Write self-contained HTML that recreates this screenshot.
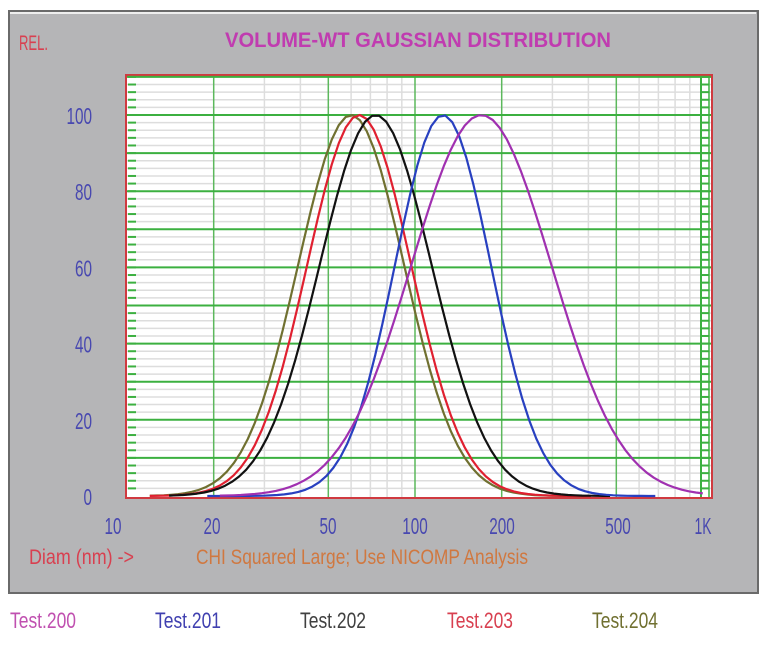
<!DOCTYPE html>
<html><head><meta charset="utf-8"><style>
body{margin:0;width:765px;height:641px;background:#fff;overflow:hidden;font-family:"Liberation Sans",sans-serif}
</style></head><body>
<svg width="765" height="641" xmlns="http://www.w3.org/2000/svg" id="s">
<rect x="9" y="11" width="749" height="582" fill="#b5b5b7" stroke="#6a6a6a" stroke-width="2"/>
<rect x="10" y="12" width="746" height="2" fill="#eee"/>
<rect x="126" y="75" width="586" height="423" fill="#fff" stroke="#d03a40" stroke-width="2"/>
<g id="grid"></g>
<g id="curves" fill="none" stroke-width="2.2" stroke-linejoin="round"></g>
<text x="19" y="50" font-size="21" fill="#d84050" textLength="29" lengthAdjust="spacingAndGlyphs">REL.</text>
<text x="418" y="47" font-size="21" font-weight="bold" fill="#c03cb0" text-anchor="middle" textLength="386" lengthAdjust="spacingAndGlyphs">VOLUME-WT GAUSSIAN DISTRIBUTION</text>
<g font-size="23" fill="#4848b0" id="ylab"></g>
<g font-size="23" fill="#4848b0" id="xlab"></g>
<text x="29" y="564" font-size="21" fill="#d84050" textLength="105" lengthAdjust="spacingAndGlyphs">Diam (nm) -&gt;</text>
<text x="196" y="564" font-size="21" fill="#d07840" textLength="332" lengthAdjust="spacingAndGlyphs">CHI Squared Large; Use NICOMP Analysis</text>
<g font-size="22">
<text x="10" y="628" fill="#c050b0" textLength="66" lengthAdjust="spacingAndGlyphs">Test.200</text>
<text x="155" y="628" fill="#4040b0" textLength="66" lengthAdjust="spacingAndGlyphs">Test.201</text>
<text x="300" y="628" fill="#404040" textLength="66" lengthAdjust="spacingAndGlyphs">Test.202</text>
<text x="447" y="628" fill="#d84050" textLength="66" lengthAdjust="spacingAndGlyphs">Test.203</text>
<text x="592" y="628" fill="#707030" textLength="66" lengthAdjust="spacingAndGlyphs">Test.204</text>
</g>
</svg>
<script>
var NS="http://www.w3.org/2000/svg";
function el(p,t,a){var e=document.createElementNS(NS,t);for(var k in a)e.setAttribute(k,a[k]);p.appendChild(e);return e;}
function X(d){return 127+288*Math.log10(d/10);}
function Y(v){return 496-3.81*v;}
var g=document.getElementById('grid');
for(var v=2;v<=110;v+=2){if(v%10)el(g,'line',{x1:127,x2:711,y1:Y(v),y2:Y(v),stroke:'#ddd','stroke-width':1.5});}
[20,30,40,50,60,70,80,90,100,200,300,400,500,600,700,800,900].forEach(function(d){
 var maj=[20,50,100,200,500].indexOf(d)>=0;
 el(g,'line',{x1:X(d),x2:X(d),y1:76,y2:497,stroke:maj?'#5cb85c':'#ddd','stroke-width':1.5});
});
for(var v=10;v<=110;v+=10)el(g,'line',{x1:127,x2:711,y1:Y(v),y2:Y(v),stroke:'#3cb040','stroke-width':2});
for(var v=2;v<=110;v+=2){el(g,'line',{x1:128,x2:136,y1:Y(v),y2:Y(v),stroke:'#3cb040','stroke-width':2});el(g,'line',{x1:700,x2:709,y1:Y(v),y2:Y(v),stroke:'#3cb040','stroke-width':2});}
el(g,'line',{x1:701,x2:701,y1:76,y2:497,stroke:'#3cb040','stroke-width':2});
el(g,'line',{x1:709,x2:709,y1:76,y2:497,stroke:'#3cb040','stroke-width':1.5});
var yl=document.getElementById('ylab');
[0,20,40,60,80,100].forEach(function(v){var w=String(v).length*8.5;var t=el(yl,'text',{x:92-w,y:Y(v)+9,textLength:w,lengthAdjust:'spacingAndGlyphs'});t.textContent=v;});
var xl=document.getElementById('xlab');
[[10,'10',113],[20,'20',212],[50,'50',328],[100,'100',415],[200,'200',502],[500,'500',618],[1000,'1K',703]].forEach(function(a){var w=a[1].length*8.5;var t=el(xl,'text',{x:a[2]-w/2,y:534,textLength:w,lengthAdjust:'spacingAndGlyphs'});t.textContent=a[1];});
var c=document.getElementById('curves');
[[60,53,'#707030',12,400],[64,52,'#e02030',12,420],[73,56,'#111',14,500],[125,48,'#2840c0',19,700],[170,70,'#a030b0',21,1000]].forEach(function(s){
 var px=X(s[0]),pts=[];
 for(var x=X(s[3]);x<=X(s[4])+0.1;x+=7){var v=100*Math.exp(-Math.pow(x-px,2)/(2*s[1]*s[1]));pts.push(x.toFixed(1)+','+Y(v).toFixed(1));}
 el(c,'polyline',{points:pts.join(' '),stroke:s[2]});
});
</script>
</body></html>
